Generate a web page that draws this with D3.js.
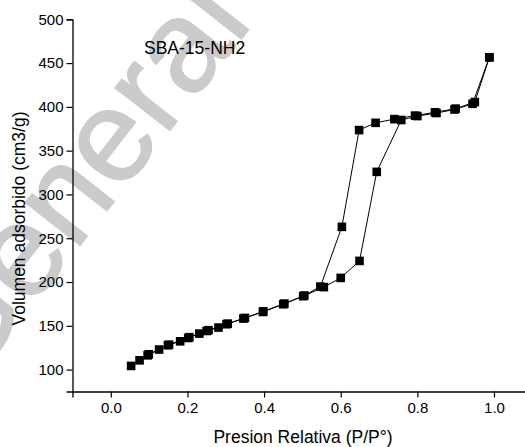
<!DOCTYPE html>
<html>
<head>
<meta charset="utf-8">
<script src="https://cdn.jsdelivr.net/npm/d3@7"></script>
<style>
  html, body { margin: 0; padding: 0; background: #fff; }
  svg { display: block; }
  text { font-family: "Liberation Sans", Arial, sans-serif; }
</style>
</head>
<body>
<svg id="chart" width="525" height="447"></svg>
<script>
// Adsorption branch (P/P0, volume cm3/g)
const adsP = [0.053, 0.075, 0.096, 0.126, 0.149, 0.181, 0.202, 0.231, 0.250, 0.281, 0.302, 0.346, 0.397, 0.450, 0.502, 0.556, 0.600, 0.649, 0.694, 0.758, 0.800, 0.850, 0.897, 0.944, 0.988];
const adsV = [104.2, 110.6, 116.3, 122.9, 127.8, 132.3, 136.1, 141.1, 144.1, 148.0, 151.8, 158.3, 165.8, 174.6, 183.8, 194.2, 204.7, 224.1, 325.8, 385.0, 389.5, 393.0, 397.0, 403.5, 456.6];
// Desorption branch
const desP = [0.988, 0.950, 0.900, 0.846, 0.794, 0.740, 0.691, 0.648, 0.603, 0.547, 0.505, 0.453, 0.398, 0.350, 0.305, 0.255, 0.205, 0.152, 0.099];
const desV = [456.6, 405.5, 398.0, 393.8, 390.0, 386.0, 381.8, 373.5, 263.0, 194.8, 184.6, 175.4, 166.5, 159.0, 152.5, 145.0, 137.0, 128.5, 117.5];

const xMajorTicks = [0.0, 0.2, 0.4, 0.6, 0.8, 1.0];
const xMinorTicks = [-0.1, 0.1, 0.3, 0.5, 0.7, 0.9, 1.1];
const yMajorTicks = [100, 150, 200, 250, 300, 350, 400, 450, 500];
const yMinorTicks = [75, 125, 175, 225, 275, 325, 375, 425, 475];

const xTitle = "Presion Relativa (P/P°)";
const yTitle = "Volumen adsorbido (cm3/g)";
const sampleLabel = "SBA-15-NH2";
const watermark = "General";

const svg = d3.select("#chart");
const x = d3.scaleLinear().domain([-0.1, 1.1]).range([72.5, 532.3]);
const y = d3.scaleLinear().domain([75, 500]).range([391.5, 19.3]);

// watermark (behind everything)
svg.append("text")
  .attr("transform", "translate(-33,390) rotate(-52)")
  .attr("font-size", 131)
  .attr("fill", "#cbcbcb")
  .attr("stroke", "#cbcbcb")
  .attr("stroke-width", 1.6)
  .text(watermark);

// axes
const fmtX = d3.format(".1f");
const gx = svg.append("g").attr("transform", `translate(0,${y(75)})`);
gx.call(d3.axisBottom(x).tickValues(xMinorTicks).tickSize(4).tickFormat(""));
gx.call(d3.axisBottom(x).tickValues(xMajorTicks).tickSize(6).tickPadding(5).tickFormat(fmtX));
const gy = svg.append("g").attr("transform", `translate(${x(-0.1)},0)`);
gy.call(d3.axisLeft(y).tickValues(yMinorTicks).tickSize(4).tickFormat(""));
gy.call(d3.axisLeft(y).tickValues(yMajorTicks).tickSize(6).tickPadding(3).tickFormat(d3.format("d")));
svg.selectAll(".domain").attr("stroke", "#000").attr("stroke-width", 1.3);
svg.selectAll(".tick line").attr("stroke", "#000").attr("stroke-width", 1.2);
svg.selectAll(".tick text").attr("font-size", 15).attr("fill", "#000")
  .attr("font-family", "Liberation Sans, Arial, sans-serif");

// series
const line = d3.line().x(d => x(d[0])).y(d => y(d[1]));
const ads = adsP.map((p, i) => [p, adsV[i]]);
const des = desP.map((p, i) => [p, desV[i]]);
[ads, des].forEach(s => {
  svg.append("path").datum(s).attr("d", line)
    .attr("fill", "none").attr("stroke", "#000").attr("stroke-width", 1);
});
const ms = 8.6;
[ads, des].forEach(s => {
  svg.append("g").selectAll("rect").data(s).join("rect")
    .attr("x", d => x(d[0]) - ms / 2).attr("y", d => y(d[1]) - ms / 2)
    .attr("width", ms).attr("height", ms).attr("fill", "#000");
});

// titles
svg.append("text").attr("x", 303).attr("y", 442.5).attr("text-anchor", "middle")
  .attr("font-size", 17.5).text(xTitle);
svg.append("text").attr("transform", "translate(24.5,218.5) rotate(-90)")
  .attr("text-anchor", "middle").attr("font-size", 17.5).text(yTitle);
svg.append("text").attr("x", 144).attr("y", 54).attr("font-size", 17.5).text(sampleLabel);
</script>
</body>
</html>
